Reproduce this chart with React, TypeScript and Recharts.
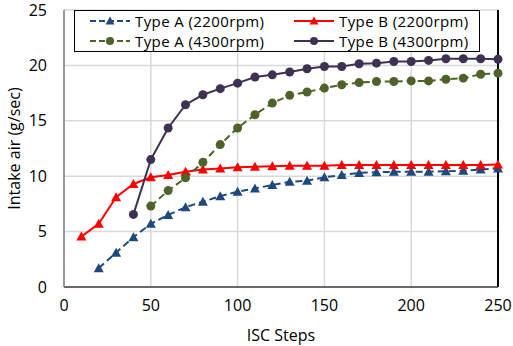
import {
  LineChart,
  Line,
  XAxis,
  YAxis,
  CartesianGrid,
  ReferenceLine,
} from "recharts";

const steps = [10, 20, 30, 40, 50, 60, 70, 80, 90, 100, 110, 120, 130, 140, 150, 160, 170, 180, 190, 200, 210, 220, 230, 240, 250];

const typeA2200 = [null, 1.7, 3.1, 4.5, 5.7, 6.5, 7.2, 7.7, 8.2, 8.6, 8.9, 9.2, 9.5, 9.6, 9.9, 10.1, 10.3, 10.35, 10.4, 10.4, 10.4, 10.45, 10.5, 10.6, 10.7];
const typeB2200 = [4.55, 5.7, 8.1, 9.3, 9.9, 10.1, 10.4, 10.6, 10.7, 10.8, 10.85, 10.9, 10.95, 10.95, 10.95, 11.0, 11.0, 11.0, 11.0, 11.0, 11.0, 11.0, 11.0, 11.0, 11.05];
const typeA4300 = [null, null, null, null, 7.3, 8.7, 9.85, 11.25, 12.85, 14.35, 15.55, 16.6, 17.3, 17.6, 17.95, 18.25, 18.45, 18.55, 18.55, 18.6, 18.6, 18.75, 18.85, 19.2, 19.3];
const typeB4300 = [null, null, null, 6.55, 11.5, 14.35, 16.45, 17.35, 17.9, 18.4, 18.95, 19.15, 19.4, 19.7, 19.9, 19.9, 20.15, 20.2, 20.35, 20.35, 20.45, 20.6, 20.6, 20.6, 20.55];

const xTicks = [0, 50, 100, 150, 200, 250];
const yTicks = [0, 5, 10, 15, 20, 25];

const FONT = "'Open Sans', sans-serif";

const data = steps.map((s, i) => ({
  step: s,
  a2200: typeA2200[i],
  b2200: typeB2200[i],
  a4300: typeA4300[i],
  b4300: typeB4300[i],
}));

const SERIES = [
  { key: "a2200", name: "Type A (2200rpm)", color: "#1F497D", dash: "7 4", shape: "tri" },
  { key: "b2200", name: "Type B (2200rpm)", color: "#FF0000", dash: undefined, shape: "tri" },
  { key: "a4300", name: "Type A (4300rpm)", color: "#4F6228", dash: "7 4", shape: "dot" },
  { key: "b4300", name: "Type B (4300rpm)", color: "#3F3151", dash: undefined, shape: "dot" },
];

// triangle marker
const Tri = (props: any) => {
  const { cx, cy, fill, key } = props;
  if (cx == null || cy == null || props.value == null) return <g key={key} />;
  const s = 5;
  return (
    <polygon
      key={key}
      points={`${cx},${cy - s} ${cx + s},${cy + s * 0.8} ${cx - s},${cy + s * 0.8}`}
      fill={fill}
    />
  );
};

const Dot = (props: any) => {
  const { cx, cy, fill, key } = props;
  if (cx == null || cy == null || props.value == null) return <g key={key} />;
  return <circle key={key} cx={cx} cy={cy} r={4.5} fill={fill} />;
};

const LegendSample = ({ s }: { s: (typeof SERIES)[number] }) => (
  <svg width={42} height={12} style={{ marginRight: 4 }}>
    <line x1={1} x2={41} y1={6} y2={6} stroke={s.color} strokeWidth={2} strokeDasharray={s.dash ? "6 3" : undefined} />
    {s.shape === "tri" ? (
      <polygon points="21,1.5 25.5,9.5 16.5,9.5" fill={s.color} />
    ) : (
      <circle cx={21} cy={6} r={4} fill={s.color} />
    )}
  </svg>
);

const ChartLegend = () => (
  <div
    style={{
      position: "absolute",
      left: 74,
      top: 10,
      border: "1px solid #000",
      background: "#fff",
      width: 406,
      height: 42,
      boxSizing: "border-box",
      display: "grid",
      gridTemplateColumns: "204px 190px",
      alignContent: "center",
      fontFamily: FONT,
      fontSize: 15,
      letterSpacing: 0.4,
      lineHeight: "20.5px",
      color: "#000",
      paddingLeft: 14,
    }}
  >
    {SERIES.map((s) => (
      <div key={s.key} style={{ display: "flex", alignItems: "center", height: 20.5, whiteSpace: "nowrap" }}>
        <LegendSample s={s} />
        <span>{s.name}</span>
      </div>
    ))}
  </div>
);

export default function App() {
  return (
    <div style={{ position: "absolute", left: 0, top: 0, width: 513, height: 346, background: "#fff" }}>
      <LineChart width={513} height={346} data={data} margin={{ top: 10, right: 15, bottom: 0, left: 0 }}>
        <CartesianGrid stroke="#D9D9D9" strokeWidth={1.5} />
        <XAxis
          dataKey="step"
          type="number"
          domain={[0, 250]}
          ticks={xTicks}
          height={59}
          tickLine={false}
          axisLine={{ stroke: "#404040", strokeWidth: 1.5 }}
          tick={{ fill: "#000", fontSize: 16, fontFamily: FONT }}
          tickMargin={7}
          label={{ value: "ISC Steps", position: "insideBottom", offset: 5, fill: "#000", fontSize: 16, fontFamily: FONT }}
        />
        <YAxis
          type="number"
          domain={[0, 25]}
          ticks={yTicks}
          width={64}
          tickLine={false}
          axisLine={{ stroke: "#808080", strokeWidth: 1.5 }}
          tick={{ fill: "#000", fontSize: 16, fontFamily: FONT }}
          tickMargin={11}
          label={{ value: "Intake air (g/sec)", angle: -90, position: "insideLeft", offset: 14, style: { textAnchor: "middle" }, fill: "#000", fontSize: 16, fontFamily: FONT }}
        />
        <ReferenceLine x={250} stroke="#000" strokeWidth={2} />
        {SERIES.map((s) => (
          <Line
            key={s.key}
            dataKey={s.key}
            name={s.name}
            stroke={s.color}
            fill={s.color}
            strokeWidth={2}
            strokeDasharray={s.dash}
            dot={s.shape === "tri" ? <Tri /> : <Dot />}
            activeDot={false}
            isAnimationActive={false}
          />
        ))}
      </LineChart>
      <ChartLegend />
    </div>
  );
}
